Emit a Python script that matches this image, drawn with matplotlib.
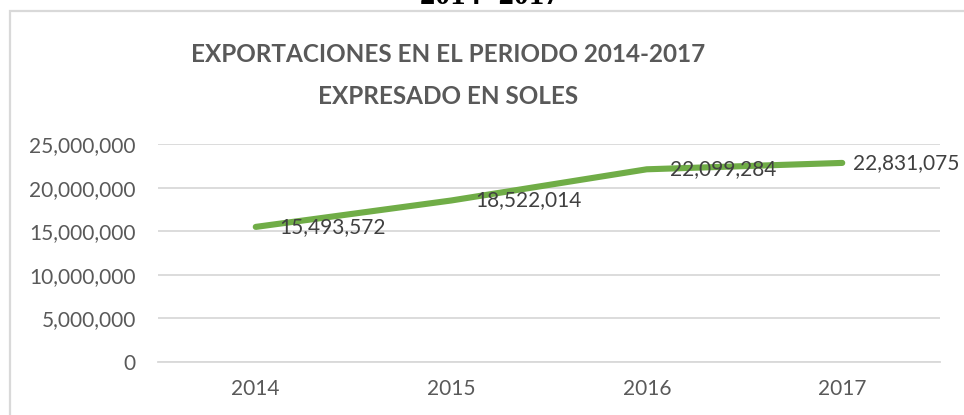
import matplotlib.pyplot as plt
from matplotlib.ticker import FuncFormatter
from matplotlib.patches import Rectangle

# datos
years = ['2014', '2015', '2016', '2017']
exports = [15493572, 18522014, 22099284, 22831075]

# desplazamiento horizontal de cada etiqueta (puntos)
label_dx = [17, 17, 17, 8]

plt.rcParams['font.family'] = ['Lato', 'DejaVu Sans']

fig = plt.figure(figsize=(9.64, 4.15), dpi=100)
ax = fig.add_axes([158 / 964, 1 - 362 / 415, (940 - 158) / 964, (362 - 144) / 415])

x = range(len(years))
ax.plot(x, exports, color='#70AD47', linewidth=4.4, solid_capstyle='round')

for i, v in enumerate(exports):
    ax.annotate(f'{v:,}', (i, v), xytext=(label_dx[i], 0), textcoords='offset points',
                ha='left', va='center', fontsize=15, color='#404040')

ax.set_xlim(-0.5, len(years) - 0.5)
ax.set_ylim(0, 25000000)
ax.set_yticks(range(0, 25000001, 5000000))
ax.yaxis.set_major_formatter(FuncFormatter(lambda v, p: f'{int(v):,}'))
ax.set_xticks(list(x))
ax.set_xticklabels(years)
ax.tick_params(length=0, labelsize=15, labelcolor='#595959', pad=12)
ax.tick_params(axis='y', pad=16)
ax.grid(axis='y', color='#D9D9D9', linewidth=1.3)
ax.set_axisbelow(True)
for s in ['top', 'right', 'left']:
    ax.spines[s].set_visible(False)
ax.spines['bottom'].set_color('#D9D9D9')
ax.spines['bottom'].set_linewidth(1.3)

fig.text(448 / 964, 1 - 55 / 415, 'EXPORTACIONES EN EL PERIODO 2014-2017',
         ha='center', va='center', fontsize=17.5, fontweight='bold', color='#595959')
fig.text(448 / 964, 1 - 97 / 415, 'EXPRESADO EN SOLES',
         ha='center', va='center', fontsize=17.5, fontweight='bold', color='#595959')

# texto cortado arriba
fig.text(490 / 964, 1 - 4 / 415, '2014- 2017', ha='center', va='baseline',
         fontsize=22, fontweight='bold', family='Liberation Serif', color='black')

# marco del grafico
fig.patches.append(Rectangle((10 / 964, -0.1), 1.2, 1 - 11 / 415 + 0.1,
                             transform=fig.transFigure, fill=False,
                             edgecolor='#D9D9D9', linewidth=1.6))

fig.savefig('out.png', dpi=100, facecolor='white')
